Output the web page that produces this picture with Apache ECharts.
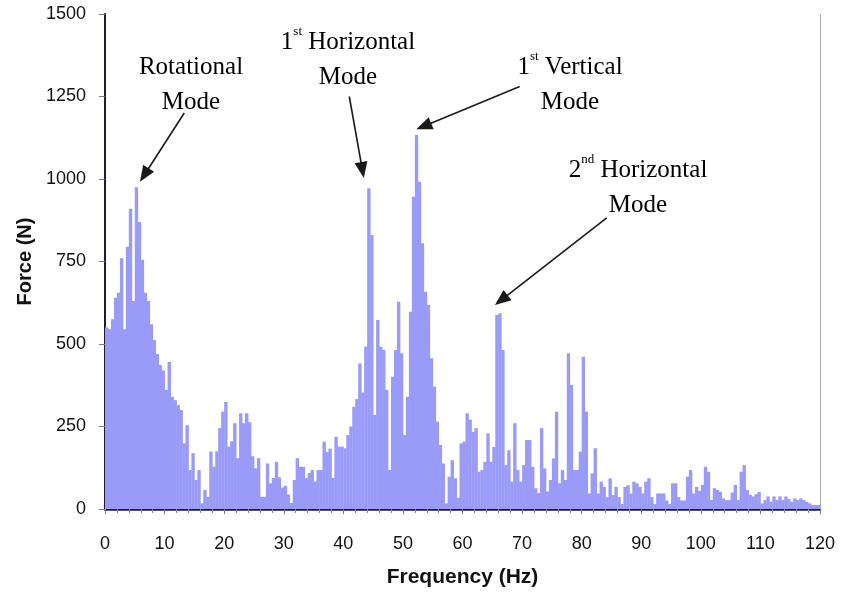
<!DOCTYPE html>
<html>
<head>
<meta charset="utf-8">
<script src="https://cdn.jsdelivr.net/npm/echarts@6/dist/echarts.min.js"></script>
<style>
  html, body { margin: 0; padding: 0; background: #ffffff; }
  #chart { width: 842px; height: 600px; }
</style>
</head>
<body>
<div id="chart"></div>
<script>
// Spectrum resolution: each column covers one 0.5 Hz bin starting at binIndex * BIN_HZ
const BIN_HZ = 0.5;

// Force amplitude per frequency bin (N), 0 to 120 Hz, 20 bins per 10 Hz row
const forceN = [
  550, 545, 575, 640, 655, 760, 545, 795, 910, 630, 975, 870, 755, 655, 630, 560, 512, 470, 436, 420,
  361, 446, 340, 330, 315, 300, 199, 254, 118, 169,  88, 118,  17,  58,  37, 174, 128, 175, 245, 295,
  325, 189, 205, 260, 154, 290, 260, 290, 263, 160, 123, 154,  37,  37, 138,  78,  94, 143,  96,  65,
   70,  44,  18,  88, 154, 128, 128,  94, 109, 118,  83, 118, 118, 204, 173, 183,  94, 219, 189, 189,
  184, 224, 250, 310, 333, 441, 353, 492, 972, 830, 285, 573, 492, 482, 361, 118, 401, 482, 628, 472,
  224, 340, 598, 946,1133, 992, 805, 658, 618, 457, 371, 265, 194, 138,  17,  98, 148,  93,  34, 199,
  204, 290, 271, 234, 245, 113, 118, 143, 229, 143, 188, 588, 593, 482, 133, 178,  83, 260, 118,  83,
  133, 209, 209, 128,  63,  48, 245, 123,  53,  88, 153, 295,  78, 118,  88, 472, 376, 118, 118, 174,
  461, 295,  47, 108, 184,  47,  83,  67,  36,  93,  42,  67,  36,  15,  67,  72,  47,  83,  78,  67,
   47,  83,  93,  36,  15,  47,  47,  47,  26,  15,  78,  78,  36,  26,  26,  98, 118,  47,  67,  55,
   73, 128, 113,  27,  63,  58,  52,  32,  27,  27,  50,  73,  27, 113, 133,  58,  43,  38,  45,  52,
   17,  27,  38,  22,  38,  27,  38,  27,  38,  30,  22,  32,  27,  32,  27,  22,  17,  12,  12,  12
];

// Axis ranges and tick spacing
const freqAxis = { min: 0, max: 120, interval: 10 };
const forceAxis = { min: 0, max: 1500, interval: 250 };

// Mode labels and the peaks their arrows point to (data coordinates)
const modeNotes = [
  { rich: ['{t|Rotational}', '{t|Mode}'], tail: [13.3, 1200], head: [6.6, 1012] },
  { rich: ['{t|1}{s|st}{t| Horizontal}', '{t|Mode}'], tail: [41.0, 1250], head: [43.2, 1027] },
  { rich: ['{t|1}{s|st}{t| Vertical}', '{t|Mode}'], tail: [69.6, 1280], head: [53.5, 1160] },
  { rich: ['{t|2}{s|nd}{t| Horizontal}', '{t|Mode}'], tail: [84.2, 882], head: [66.5, 633] }
];
// Text block centres for the mode labels (pixels)
const noteCentres = [[191, 85], [348, 60], [570, 85], [638, 188]];

const seriesData = forceN.map((v, i) => [i * BIN_HZ, v]);

const chart = echarts.init(document.getElementById('chart'), null, { renderer: 'canvas' });

const sansFont = '"Liberation Sans", Arial, Helvetica, sans-serif';
const serifFont = '"Liberation Serif", "Times New Roman", serif';

chart.setOption({
  animation: false,
  backgroundColor: '#ffffff',
  grid: { left: 105, right: 22, top: 14, bottom: 91, containLabel: false },
  xAxis: {
    type: 'value',
    min: freqAxis.min, max: freqAxis.max, interval: freqAxis.interval,
    name: 'Frequency (Hz)',
    nameLocation: 'middle',
    nameGap: 58,
    nameTextStyle: { fontFamily: sansFont, fontWeight: 'bold', fontSize: 21, color: '#111' },
    axisLine: { show: true, lineStyle: { color: '#1c1c38', width: 2.5 } },
    axisTick: { show: true, inside: false, length: 5, lineStyle: { color: '#777' } },
    minorTick: { show: true, splitNumber: 5, length: 4, lineStyle: { color: '#888' } },
    axisLabel: { margin: 26, fontFamily: sansFont, fontSize: 18, color: '#111' },
    splitLine: { show: false }
  },
  yAxis: {
    type: 'value',
    min: forceAxis.min, max: forceAxis.max, interval: forceAxis.interval,
    name: 'Force (N)',
    nameLocation: 'middle',
    nameGap: 63,
    nameRotate: 90,
    nameTextStyle: { fontFamily: sansFont, fontWeight: 'bold', fontSize: 20, color: '#111' },
    axisLine: { show: true, lineStyle: { color: '#1c1c38', width: 2 } },
    axisTick: { show: true, inside: false, length: 6, lineStyle: { color: '#777' } },
    axisLabel: {
      margin: 19, fontFamily: sansFont, fontSize: 18, color: '#111',
      formatter: v => String(v)
    },
    splitLine: { show: false }
  },
  series: [
    {
      type: 'custom',
      name: 'Force',
      data: seriesData,
      encode: { x: 0, y: 1 },
      clip: true,
      renderItem: function (params, api) {
        const f = api.value(0);
        const v = api.value(1);
        const topLeft = api.coord([f, v]);
        const bottomRight = api.coord([f + BIN_HZ, 0]);
        return {
          type: 'rect',
          shape: {
            x: topLeft[0],
            y: topLeft[1],
            width: bottomRight[0] - topLeft[0] + 0.4,
            height: bottomRight[1] - topLeft[1]
          },
          style: { fill: '#9a9af8' }
        };
      },
      markLine: {
        silent: true,
        symbol: ['none', 'triangle'],
        symbolSize: [13, 16],
        lineStyle: { color: '#1a1a1a', width: 1.6, type: 'solid' },
        itemStyle: { color: '#1a1a1a' },
        label: { show: false },
        data: modeNotes.map(n => [{ coord: n.tail }, { coord: n.head }])
      }
    },
    {
      // thin plot-area edge on the right-hand side
      type: 'line',
      data: [],
      silent: true,
      markLine: {
        silent: true,
        symbol: ['none', 'none'],
        lineStyle: { color: '#a8a8a8', width: 1, type: 'solid' },
        label: { show: false },
        data: [[{ coord: [freqAxis.max, forceAxis.min] }, { coord: [freqAxis.max, forceAxis.max] }]]
      }
    }
  ]
});

// Mode labels drawn as rich text blocks
const richStyles = {
  t: { fontFamily: serifFont, fontSize: 25, color: '#111', lineHeight: 35 },
  s: { fontFamily: serifFont, fontSize: 13, color: '#111', verticalAlign: 'top', lineHeight: 35, padding: [0, 0, 12, 0] }
};
chart.setOption({
  graphic: modeNotes.map((n, i) => ({
    type: 'text',
    x: noteCentres[i][0],
    y: noteCentres[i][1],
    style: {
      text: n.rich.join('\n'),
      rich: richStyles,
      align: 'center',
      verticalAlign: 'middle',
      textAlign: 'center',
      textVerticalAlign: 'middle'
    }
  }))
});
</script>
</body>
</html>
